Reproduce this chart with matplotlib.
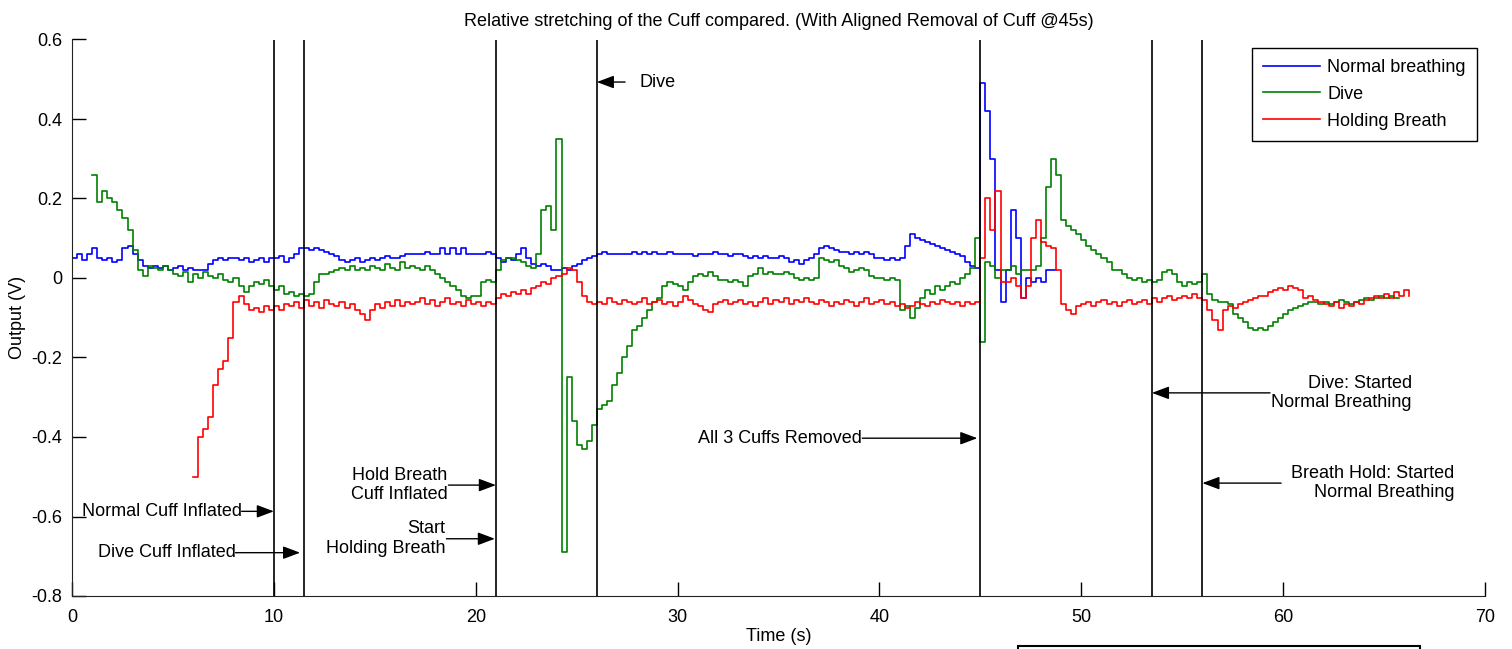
import numpy as np
import matplotlib
matplotlib.use('Agg')
import matplotlib.pyplot as plt
from matplotlib.patches import Rectangle

plt.rcParams['font.family'] = ['Liberation Sans', 'DejaVu Sans']
plt.rcParams['axes.unicode_minus'] = False
FS = 13

# sample spacing of the traces (s)
dt = 0.25

# Normal breathing, starts at t = 0 s
t0_normal = 0.0
normal = [
    0.05, 0.06, 0.045, 0.06,   0.075, 0.05, 0.045, 0.05,   0.04, 0.045, 0.075, 0.08,
    0.06, 0.045, 0.03, 0.025,  0.03, 0.025, 0.03, 0.02,    0.025, 0.03, 0.02, 0.025,
    0.02, 0.02, 0.02, 0.035,   0.045, 0.05, 0.045, 0.05,   0.05, 0.045, 0.05, 0.04,
    0.045, 0.05, 0.04, 0.05,   0.05, 0.055, 0.04, 0.05,    0.06, 0.075, 0.075, 0.07,
    0.075, 0.07, 0.065, 0.06,  0.055, 0.045, 0.04, 0.045,  0.05, 0.04, 0.045, 0.05,
    0.045, 0.05, 0.055, 0.05,  0.05, 0.055, 0.06, 0.06,    0.06, 0.06, 0.065, 0.06,
    0.06, 0.075, 0.06, 0.075,  0.06, 0.075, 0.06, 0.06,    0.06, 0.06, 0.065, 0.06,
    0.05, 0.04, 0.05, 0.045,   0.06, 0.075, 0.05, 0.035,   0.03, 0.035, 0.03, 0.02,
    0.02, 0.025, 0.02, 0.03,   0.035, 0.045, 0.05, 0.055,  0.06, 0.065, 0.06, 0.06,
    0.06, 0.06, 0.06, 0.065,   0.06, 0.065, 0.06, 0.065,   0.06, 0.06, 0.065, 0.06,
    0.06, 0.06, 0.06, 0.055,   0.06, 0.06, 0.06, 0.065,    0.06, 0.06, 0.055, 0.06,
    0.06, 0.055, 0.05, 0.055,  0.05, 0.055, 0.05, 0.05,    0.055, 0.05, 0.04, 0.045,
    0.035, 0.045, 0.05, 0.06,  0.075, 0.08, 0.075, 0.07,   0.065, 0.065, 0.06, 0.065,
    0.06, 0.065, 0.06, 0.05,   0.05, 0.045, 0.05, 0.045,   0.05, 0.08, 0.11, 0.1,
    0.095, 0.09, 0.085, 0.08,  0.075, 0.07, 0.065, 0.06,   0.055, 0.04, 0.03, 0.025,
    0.49, 0.42, 0.30, 0.02,    -0.06, 0.02, 0.17, 0.10,    -0.05, 0.0, -0.01, 0.0,
    -0.01, 0.02, 0.02, 0.02,
]

# Dive, starts at t = 1 s
t0_dive = 1.0
dive = [
    0.26, 0.19, 0.22, 0.2,      0.19, 0.17, 0.15, 0.12,     0.07, 0.02, 0.005, 0.03,
    0.025, 0.02, 0.03, 0.02,    0.01, 0.005, 0.015, -0.01,  0.01, 0.0, 0.015, 0.005,
    0.0, 0.01, -0.005, -0.01,   0.0, -0.02, -0.035, -0.02,  -0.01, -0.015, -0.005, -0.02,
    -0.03, -0.02, -0.04, -0.035, -0.045, -0.04, -0.045, -0.04, -0.01, 0.01, 0.01, 0.015,
    0.02, 0.025, 0.02, 0.03,    0.02, 0.025, 0.02, 0.03,    0.025, 0.02, 0.035, 0.025,
    0.02, 0.04, 0.025, 0.03,    0.025, 0.02, 0.03, 0.02,    0.01, 0.0, -0.01, -0.02,
    -0.03, -0.045, -0.05, -0.045, -0.045, -0.01, -0.005, -0.01, 0.02, 0.045, 0.05, 0.05,
    0.045, 0.04, 0.03, 0.025,   0.06, 0.17, 0.18, 0.12,     0.35, -0.69, -0.25, -0.36,
    -0.42, -0.43, -0.41, -0.37, -0.33, -0.32, -0.31, -0.27, -0.24, -0.2, -0.17, -0.13,
    -0.12, -0.1, -0.08, -0.06,  -0.05, -0.02, -0.01, -0.015, -0.02, -0.03, -0.01, 0.005,
    0.01, 0.005, 0.015, 0.005,  -0.005, -0.005, -0.01, -0.005, -0.01, -0.02, 0.005, 0.01,
    0.025, 0.01, 0.015, 0.01,   0.01, 0.015, 0.01, 0.0,     -0.005, 0.0, -0.005, 0.0,
    0.05, 0.045, 0.04, 0.045,   0.03, 0.025, 0.015, 0.02,   0.025, 0.02, 0.005, 0.0,
    0.0, -0.005, 0.0, -0.005,   -0.08, -0.07, -0.1, -0.075, -0.05, -0.03, -0.04, -0.02,
    -0.03, -0.02, -0.01, -0.015, 0.0, 0.01, 0.025, 0.1,     -0.16, 0.04, 0.03, 0.0,
    0.02, 0.02, 0.03, 0.01,     0.02, 0.02, 0.02, 0.03,     0.1, 0.23, 0.3, 0.26,
    0.145, 0.13, 0.12, 0.11,    0.095, 0.08, 0.07, 0.06,    0.05, 0.04, 0.02, 0.02,
    0.01, 0.0, -0.005, 0.0,     -0.01, -0.005, -0.01, -0.005, 0.015, 0.02, 0.01, -0.01,
    -0.02, -0.01, -0.015, -0.01, 0.01, -0.04, -0.055, -0.06, -0.06, -0.065, -0.09, -0.1,
    -0.11, -0.125, -0.13, -0.125, -0.13, -0.12, -0.11, -0.1, -0.09, -0.08, -0.075, -0.07,
    -0.065, -0.06, -0.06, -0.065, -0.06, -0.065, -0.06, -0.055, -0.06, -0.065, -0.06, -0.055,
    -0.05, -0.055, -0.05, -0.045, -0.05, -0.045, -0.05, -0.05,
]

# Holding breath, starts at t = 6 s
t0_hold = 6.0
hold = [
    -0.5, -0.4, -0.38, -0.35,   -0.27, -0.23, -0.21, -0.15,  -0.06, -0.045, -0.065, -0.08,
    -0.075, -0.085, -0.07, -0.08, -0.07, -0.08, -0.065, -0.07, -0.06, -0.075, -0.055, -0.07,
    -0.06, -0.075, -0.055, -0.065, -0.07, -0.06, -0.075, -0.065, -0.08, -0.09, -0.105, -0.08,
    -0.065, -0.075, -0.06, -0.07, -0.055, -0.07, -0.06, -0.065, -0.06, -0.05, -0.065, -0.055,
    -0.07, -0.06, -0.05, -0.065, -0.06, -0.07, -0.055, -0.065, -0.06, -0.07, -0.06, -0.065,
    -0.05, -0.04, -0.045, -0.035, -0.04, -0.03, -0.04, -0.025, -0.02, -0.01, -0.015, 0.0,
    0.005, 0.01, 0.025, 0.02,   -0.01, -0.045, -0.06, -0.065, -0.06, -0.065, -0.05, -0.06,
    -0.065, -0.055, -0.06, -0.065, -0.06, -0.05, -0.065, -0.06, -0.055, -0.065, -0.06, -0.07,
    -0.06, -0.045, -0.055, -0.065, -0.07, -0.08, -0.085, -0.065, -0.06, -0.055, -0.065, -0.06,
    -0.055, -0.065, -0.06, -0.07, -0.06, -0.05, -0.065, -0.055, -0.06, -0.05, -0.065, -0.055,
    -0.06, -0.05, -0.06, -0.065, -0.055, -0.06, -0.07, -0.06, -0.065, -0.055, -0.06, -0.07,
    -0.06, -0.05, -0.065, -0.06, -0.055, -0.065, -0.06, -0.07, -0.065, -0.075, -0.07, -0.06,
    -0.065, -0.07, -0.06, -0.065, -0.055, -0.06, -0.065, -0.06, -0.07, -0.06, -0.065, -0.06,
    0.05, 0.2, 0.12, 0.22,      -0.01, -0.01, 0.0, -0.02,   -0.05, -0.02, 0.1, 0.145,
    0.09, 0.08, 0.075, 0.02,    -0.065, -0.08, -0.09, -0.07, -0.065, -0.06, -0.07, -0.06,
    -0.055, -0.065, -0.06, -0.07, -0.06, -0.055, -0.065, -0.06, -0.055, -0.065, -0.05, -0.06,
    -0.05, -0.045, -0.055, -0.05, -0.045, -0.05, -0.04, -0.05, -0.055, -0.08, -0.105, -0.13,
    -0.08, -0.07, -0.075, -0.065, -0.06, -0.055, -0.05, -0.045, -0.045, -0.035, -0.03, -0.025,
    -0.03, -0.02, -0.025, -0.03, -0.05, -0.045, -0.055, -0.06, -0.065, -0.07, -0.06, -0.075,
    -0.065, -0.07, -0.06, -0.065, -0.055, -0.05, -0.045, -0.05, -0.04, -0.05, -0.035, -0.045,
    -0.03, -0.045,
]

# event markers (s)
events = [10, 11.5, 21, 26, 45, 53.5, 56]

# annotation texts, arrow (tail x, head x, y), text anchor
notes = [
    ('Dive', 27.4, 26.0, 0.493, 28.1, 'left'),
    ('Normal Cuff Inflated', 8.4, 10.0, -0.587, 8.4, 'right'),
    ('Dive Cuff Inflated', 8.1, 11.3, -0.691, 8.1, 'right'),
    ('Hold Breath\nCuff Inflated', 18.65, 21.0, -0.521, 18.6, 'right'),
    ('Start\nHolding Breath', 18.55, 20.95, -0.656, 18.5, 'right'),
    ('All 3 Cuffs Removed', 39.15, 44.85, -0.403, 39.15, 'right'),
    ('Dive: Started\nNormal Breathing', 59.35, 53.5, -0.289, 66.37, 'right'),
    ('Breath Hold: Started\nNormal Breathing', 59.9, 56.0, -0.516, 68.5, 'right'),
]

yticks = [-0.8, -0.6, -0.4, -0.2, 0, 0.2, 0.4, 0.6]
ytick_labels = ['-0.8', '-0.6', '-0.4', '-0.2', '0', '0.2', '0.4', '0.6']
xticks = [0, 10, 20, 30, 40, 50, 60, 70]

fig = plt.figure(figsize=(15.12, 6.49), dpi=100)
ax = fig.add_axes([72 / 1512, 53 / 649, 1413 / 1512, 556.5 / 649])

for t0, vals, col, lab in [(t0_normal, normal, (0, 0, 1), 'Normal breathing'),
                           (t0_dive, dive, (0, 0.5, 0), 'Dive'),
                           (t0_hold, hold, (1, 0, 0), 'Holding Breath')]:
    t = t0 + dt * np.arange(len(vals))
    ax.plot(t, vals, color=col, lw=1.2, drawstyle='steps-post', label=lab)

for x in events:
    ax.axvline(x, color='black', lw=1.2)

for txt, xt, xh, y, xtxt, ha in notes:
    ax.annotate('', xy=(xh, y), xytext=(xt, y),
                arrowprops=dict(arrowstyle='-|>,head_length=0.8,head_width=0.3',
                                mutation_scale=13, color='black', lw=1.0,
                                shrinkA=0, shrinkB=0))
    ax.text(xtxt, y, txt, ha=ha, va='center', multialignment='right', fontsize=FS)

ax.set_xlim(0, 70)
ax.set_ylim(-0.8, 0.6)
ax.set_xticks(xticks)
ax.set_yticks(yticks)
ax.set_yticklabels(ytick_labels)
ax.tick_params(direction='in', length=10, width=1, labelsize=FS)
ax.tick_params(axis='x', pad=9)
ax.tick_params(axis='y', pad=7)
for side in ['top', 'right']:
    ax.spines[side].set_visible(False)
for side in ['left', 'bottom']:
    ax.spines[side].set_color('#222222')

ax.set_xlabel('Time (s)', fontsize=FS, labelpad=2)
ax.set_ylabel('Output (V)', fontsize=FS, labelpad=4)
ax.set_title('Relative stretching of the Cuff compared. (With Aligned Removal of Cuff @45s)',
             fontsize=FS, pad=10)

leg = ax.legend(loc='upper right', fontsize=FS, fancybox=False, edgecolor='black',
                framealpha=1, borderaxespad=0.45, handlelength=3.15, handletextpad=0.4,
                labelspacing=0.55, borderpad=0.62)
leg.get_frame().set_linewidth(1.0)

# partly visible box at the bottom edge
fig.add_artist(Rectangle((1018 / 1512, -0.02), 402 / 1512, 0.02 + 3 / 649,
                         transform=fig.transFigure, fill=False, lw=1.5, color='black'))

fig.savefig('out.png', dpi=100)
